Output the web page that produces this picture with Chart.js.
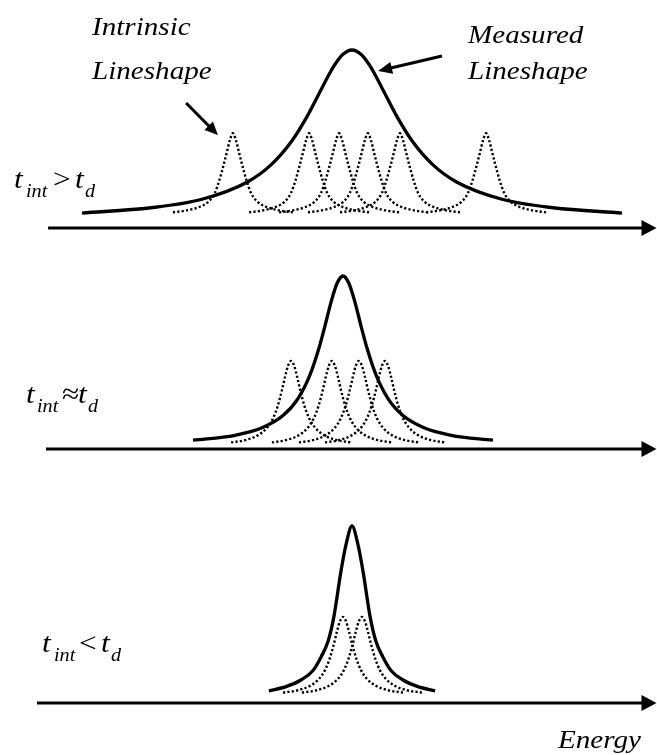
<!DOCTYPE html>
<html>
<head>
<meta charset="utf-8">
<script src="https://cdn.jsdelivr.net/npm/chart.js@4.4.1/dist/chart.umd.min.js"></script>
<style>
  html, body { margin: 0; padding: 0; background: #fff; }
  #wrap { width: 657px; height: 755px; position: relative; }
</style>
</head>
<body>
<div id="wrap"><canvas id="lineshapes"></canvas></div>
<script>
// energy axis (arbitrary units, 0 = centre of the measured line)
const energyMin = -117.33;
const energyMax = 101.67;

// measured lineshape (solid) for each regime
const measuredX1 = [-90, -67, -50, -35, -27, -20, -15, -10, -6, -3, 0, 3, 6, 10, 15, 20, 27, 35, 50, 67, 90];
const measuredY1 = [4.1, 7.2, 12.2, 22.2, 32.4, 46.6, 60.8, 77.7, 90.6, 97.5, 100, 97.5, 90.6, 77.7, 60.8, 46.6, 32.4, 22.2, 12.2, 7.2, 4.1];
const measuredX2 = [-53, -39, -30, -23, -18, -14, -11, -9, -7, -5, -3, -1, 1, 3, 5, 8, 12, 17, 24, 33, 47];
const measuredY2 = [3.4, 6.3, 10.7, 17.9, 27.9, 41.8, 57.6, 70.7, 84.5, 95.6, 100, 95.6, 84.5, 70.7, 57.6, 41.8, 27.9, 17.9, 10.7, 6.3, 3.4];
const measuredX3 = [-27.7, -22, -17, -13, -10.3, -8, -6, -3.8, -2, 0, 2, 3.8, 6, 8, 10.3, 13, 17, 22, 27.7];
const measuredY3 = [3, 5.5, 9.4, 15, 23, 32, 47, 72, 89, 100, 89, 72, 47, 32, 23, 15, 9.4, 5.5, 3];

// intrinsic lineshape (dotted): offsets from a line centre and the profile in each regime
const intrinsicOffsets = [-20, -15, -11, -8, -6, -4.5, -3, -2, -1, 0, 1, 2, 3, 4.5, 6, 8, 11, 15, 20];
const intrinsicY1 = [4.5, 5.8, 7.8, 11, 16, 23.5, 33, 40, 47, 51, 47, 40, 33, 23.5, 16, 11, 7.8, 5.8, 4.5];
const intrinsicY2 = [2.1, 3.6, 6.4, 10.8, 16.4, 23.3, 33.1, 40.8, 47.3, 50, 47.3, 40.8, 33.1, 23.3, 16.4, 10.8, 6.4, 3.6, 2.1];
const intrinsicY3 = [2, 3.4, 6, 10, 15.2, 21.7, 30.8, 38, 44, 46.5, 44, 38, 30.8, 21.7, 15.2, 10, 6, 3.4, 2];

// centres of the individual intrinsic lines
const lineCentres1 = [-39.7, -14.3, -4.3, 5.3, 16, 44.7];
const lineCentres2 = [-20.3, -6.7, 2.3, 11];
const lineCentres3 = [-3, 3.3];

// comparison shown in each regime label
const regimeOps = ['>', '\u2248', '<'];

// page layout of the three stacked panels
const PX_PER_UNIT = 1.7;
const panels = [
  { id: 'y1', base: 220, axisAt: -4.7, axisFrom: -101.3, labelY: 188, pieces: [14, 26, 53, 75, 85] },
  { id: 'y2', base: 446, axisAt: -1.8, axisFrom: -102, labelY: 403, pieces: [26, 37, 62, 78, 88] },
  { id: 'y3', base: 696, axisAt: -4.1, axisFrom: -105, labelY: 652, pieces: [42, 54, 79, 101, 111] }
];
const HEIGHT = 755;
const STRETCH = 1.12;
const SERIF = '"Liberation Serif", "Times New Roman", Times, serif';

const toPoints = (xs, ys) => xs.map((x, i) => ({ x: x, y: ys[i] }));

const measured = [[measuredX1, measuredY1], [measuredX2, measuredY2], [measuredX3, measuredY3]];
const intrinsic = [[lineCentres1, intrinsicY1], [lineCentres2, intrinsicY2], [lineCentres3, intrinsicY3]];

const datasets = [];
measured.forEach((m, k) => {
  datasets.push({
    data: toPoints(m[0], m[1]),
    yAxisID: panels[k].id,
    borderColor: '#000',
    borderWidth: 3.3,
    pointRadius: 0,
    cubicInterpolationMode: 'monotone',
    fill: false
  });
});
intrinsic.forEach((set, k) => {
  set[0].forEach(c => {
    datasets.push({
      data: intrinsicOffsets.map((o, i) => ({ x: c + o, y: set[1][i] })),
      yAxisID: panels[k].id,
      borderColor: '#000',
      borderWidth: 2.4,
      borderDash: [2.2, 2.2],
      pointRadius: 0,
      cubicInterpolationMode: 'monotone',
      fill: false
    });
  });
});

const yScales = {};
panels.forEach(p => {
  yScales[p.id] = {
    type: 'linear',
    display: false,
    min: (p.base - HEIGHT) / PX_PER_UNIT,
    max: p.base / PX_PER_UNIT
  };
});

// text is stretched sideways like the original figure
function italicText(ctx, text, x, y, size, upright) {
  ctx.save();
  ctx.font = (upright ? 'normal ' : 'italic ') + size + 'px ' + SERIF;
  ctx.textBaseline = 'alphabetic';
  ctx.scale(STRETCH, 1);
  ctx.fillText(text, x / STRETCH, y);
  ctx.restore();
}

function arrow(ctx, x0, y0, x1, y1, len, half, width) {
  const a = Math.atan2(y1 - y0, x1 - x0);
  const bx = x1 - len * Math.cos(a), by = y1 - len * Math.sin(a);
  ctx.lineWidth = width;
  ctx.beginPath();
  ctx.moveTo(x0, y0);
  ctx.lineTo(bx + 2 * Math.cos(a), by + 2 * Math.sin(a));
  ctx.stroke();
  ctx.beginPath();
  ctx.moveTo(x1, y1);
  ctx.lineTo(bx + half * Math.sin(a), by - half * Math.cos(a));
  ctx.lineTo(bx - half * Math.sin(a), by + half * Math.cos(a));
  ctx.closePath();
  ctx.fill();
}

const annotations = {
  id: 'annotations',
  afterDatasetsDraw(chart) {
    const ctx = chart.ctx;
    const xs = chart.scales.x;
    ctx.save();
    ctx.fillStyle = '#000';
    ctx.strokeStyle = '#000';

    // energy axes
    panels.forEach((p, k) => {
      const ys = chart.scales[p.id];
      const y = ys.getPixelForValue(p.axisAt);
      arrow(ctx, xs.getPixelForValue(p.axisFrom), y, xs.getPixelForValue(energyMax) - 0.5, y, 15, 8, 3);

      // regime label t_int ? t_d
      const q = p.pieces;
      italicText(ctx, 't', q[0], p.labelY, 28);
      italicText(ctx, 'int', q[1], p.labelY + 9, 18);
      italicText(ctx, regimeOps[k], q[2], p.labelY, 28, true);
      italicText(ctx, 't', q[3], p.labelY, 28);
      italicText(ctx, 'd', q[4], p.labelY + 9, 18);
    });

    // pointers to the two lineshapes
    const y1 = chart.scales.y1;
    arrow(ctx, xs.getPixelForValue(-55.3), y1.getPixelForValue(68.8),
      xs.getPixelForValue(-44.7), y1.getPixelForValue(50), 13, 6, 3);
    arrow(ctx, xs.getPixelForValue(30), y1.getPixelForValue(96.5),
      xs.getPixelForValue(8.7), y1.getPixelForValue(87.6), 14, 6, 3);

    italicText(ctx, 'Intrinsic', 92, 35, 26);
    italicText(ctx, 'Lineshape', 92, 79, 26);
    italicText(ctx, 'Measured', 468, 43, 26);
    italicText(ctx, 'Lineshape', 468, 79, 26);
    italicText(ctx, 'Energy', 558, 748, 26);
    ctx.restore();
  }
};

function drawFigure() {
  new Chart(document.getElementById('lineshapes'), {
    type: 'line',
    data: { datasets: datasets },
    options: {
      responsive: true,
      maintainAspectRatio: false,
      animation: false,
      events: [],
      layout: { padding: 0 },
      plugins: {
        legend: { display: false },
        tooltip: { enabled: false }
      },
      scales: Object.assign({
        x: { type: 'linear', display: false, min: energyMin, max: energyMax }
      }, yScales)
    },
    plugins: [annotations]
  });
}

// make sure the serif italic face is ready before the canvas text is drawn
Promise.all([
  document.fonts.load('italic 24px ' + SERIF),
  document.fonts.load('24px ' + SERIF)
]).then(drawFigure, drawFigure);
</script>
</body>
</html>
